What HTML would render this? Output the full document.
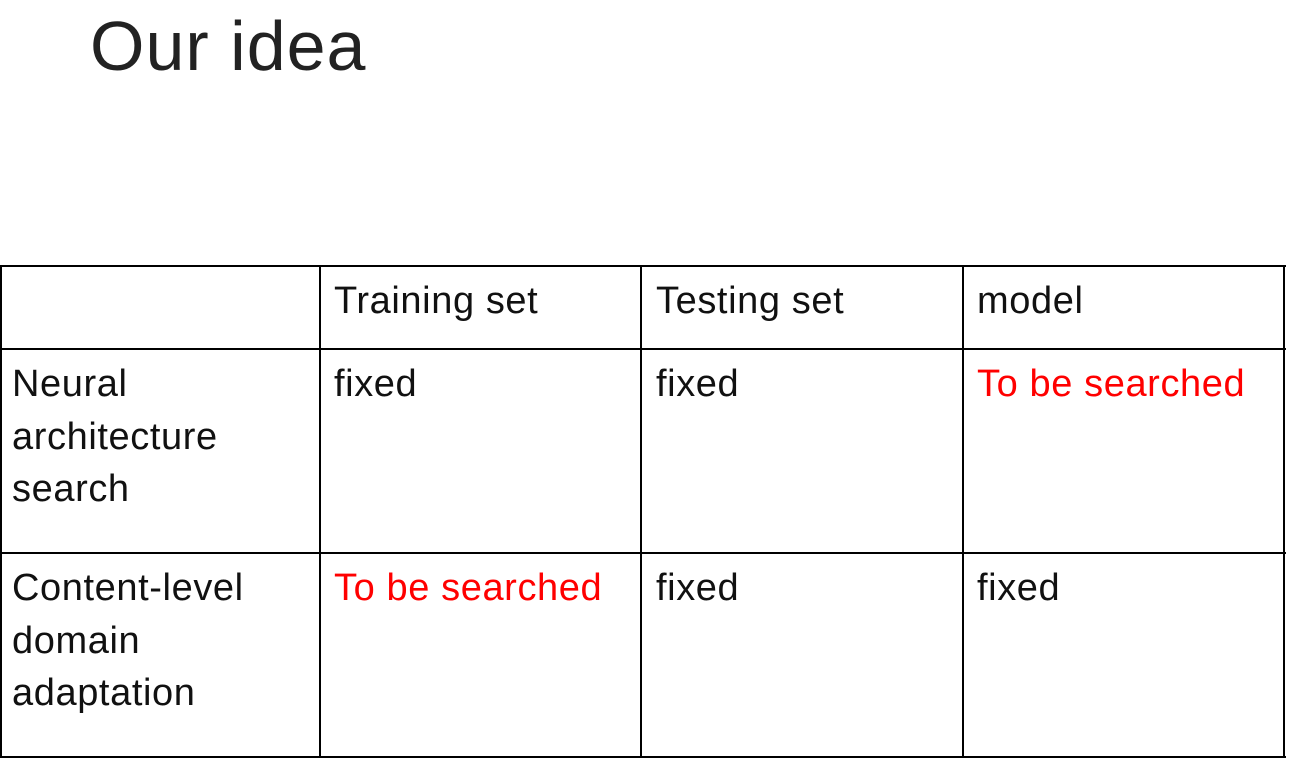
<!DOCTYPE html>
<html><head><style>
body{margin:0;width:1296px;height:769px;background:#fff;position:relative;overflow:hidden;font-family:"Liberation Sans",sans-serif;}
.t{position:absolute;font-size:38px;line-height:52.5px;color:#111;white-space:nowrap;letter-spacing:0.6px;}
.r{color:#f00;}
.h{position:absolute;background:#000;height:1.5px;}
.v{position:absolute;background:#000;width:1.5px;}
</style></head><body>
<div style="position:absolute;left:90px;top:6px;font-size:70px;font-weight:300;color:#222;letter-spacing:1px;">Our idea</div>
<div class="h" style="left:0;width:1286px;top:265px"></div>
<div class="h" style="left:0;width:1286px;top:348px"></div>
<div class="h" style="left:0;width:1286px;top:552px"></div>
<div class="h" style="left:0;width:1286px;top:756px"></div>
<div class="v" style="left:0;top:265px;height:493px"></div>
<div class="v" style="left:319px;top:265px;height:493px"></div>
<div class="v" style="left:640px;top:265px;height:493px"></div>
<div class="v" style="left:962px;top:265px;height:493px"></div>
<div class="v" style="left:1283px;top:265px;height:493px"></div>
<div class="t" style="left:334px;top:275px">Training set</div>
<div class="t" style="left:656px;top:275px">Testing set</div>
<div class="t" style="left:977px;top:275px">model</div>
<div class="t" style="left:12px;top:358px">Neural<br>architecture<br>search</div>
<div class="t" style="left:334px;top:358px">fixed</div>
<div class="t" style="left:656px;top:358px">fixed</div>
<div class="t r" style="left:977px;top:358px">To be searched</div>
<div class="t" style="left:12px;top:562px">Content-level<br>domain<br>adaptation</div>
<div class="t r" style="left:334px;top:562px">To be searched</div>
<div class="t" style="left:656px;top:562px">fixed</div>
<div class="t" style="left:977px;top:562px">fixed</div>
</body></html>
